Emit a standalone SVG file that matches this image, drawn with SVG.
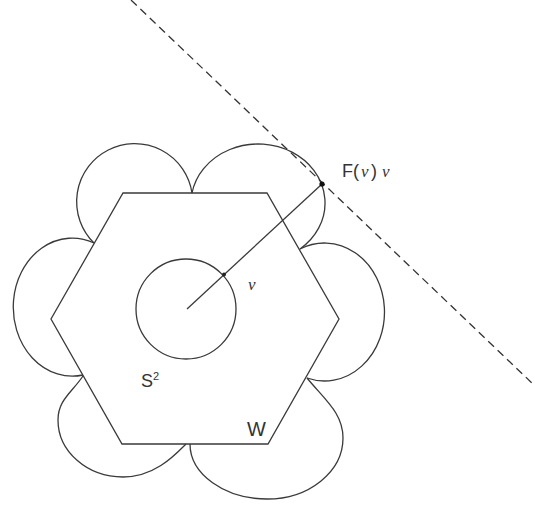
<svg xmlns="http://www.w3.org/2000/svg" width="535" height="506" viewBox="0 0 535 506">
<style>
.ln{fill:none;stroke:#3a3a3a;stroke-width:1.3}
.dash{fill:none;stroke:#333;stroke-width:1.3;stroke-dasharray:8,5}
.sans{font-family:"Liberation Sans",Arial,sans-serif;fill:#333}
.ser{font-family:"Liberation Serif","Times New Roman",serif;font-style:italic;fill:#333}
</style>
<rect width="535" height="506" fill="#fff"/>
<g id="wulff-hexagon">
<polygon class="ln" points="123,193 267,193 339,319 268,444 122,444 51,319"/>
</g>
<g id="bumps">
<path id="bump-top-left" class="ln" d="M94,243 A58,58 0 1 1 192,193"/>
<path id="bump-top-right" class="ln" d="M192,193 A67,59 0 1 1 300,249"/>
<path id="bump-right" class="ln" d="M300,249 A60,69 0 1 1 307,378"/>
<path id="bump-bottom-right" class="ln" d="M307,378 C325,400 343,413 343,438 C343,471.7 309,499 267,499 C224.5,499 190,474 190,444"/>
<path id="bump-bottom-left" class="ln" d="M83,376 C71.8,392.6 58,400 58,420 C58,451.5 87.1,477 123,477 C155,477 175.5,454.5 186,444"/>
<path id="bump-left" class="ln" d="M94,243 A59,69 0 1 0 83,375"/>
</g>
<g id="sphere">
<circle class="ln" cx="186" cy="309" r="50"/>
</g>
<g id="connectors">
<line class="ln" x1="187" y1="309" x2="322" y2="184"/>
<line class="dash" x1="131" y1="0" x2="533" y2="384"/>
<circle cx="224" cy="274.5" r="2" fill="#222"/>
<circle cx="322" cy="184" r="2.6" fill="#111"/>
</g>
<g id="labels">
<text class="sans" font-size="18"><tspan x="342" y="177">F(</tspan><tspan class="ser" x="361" y="177" font-size="17">v</tspan><tspan x="371" y="177">)</tspan><tspan class="ser" x="382" y="177" font-size="17">v</tspan></text>
<text class="ser" x="248" y="290" font-size="17">v</text>
<text class="sans" x="141" y="387" font-size="18">S<tspan font-size="11" dy="-7">2</tspan></text>
<text class="sans" x="247" y="436" font-size="20">W</text>
</g>
</svg>
